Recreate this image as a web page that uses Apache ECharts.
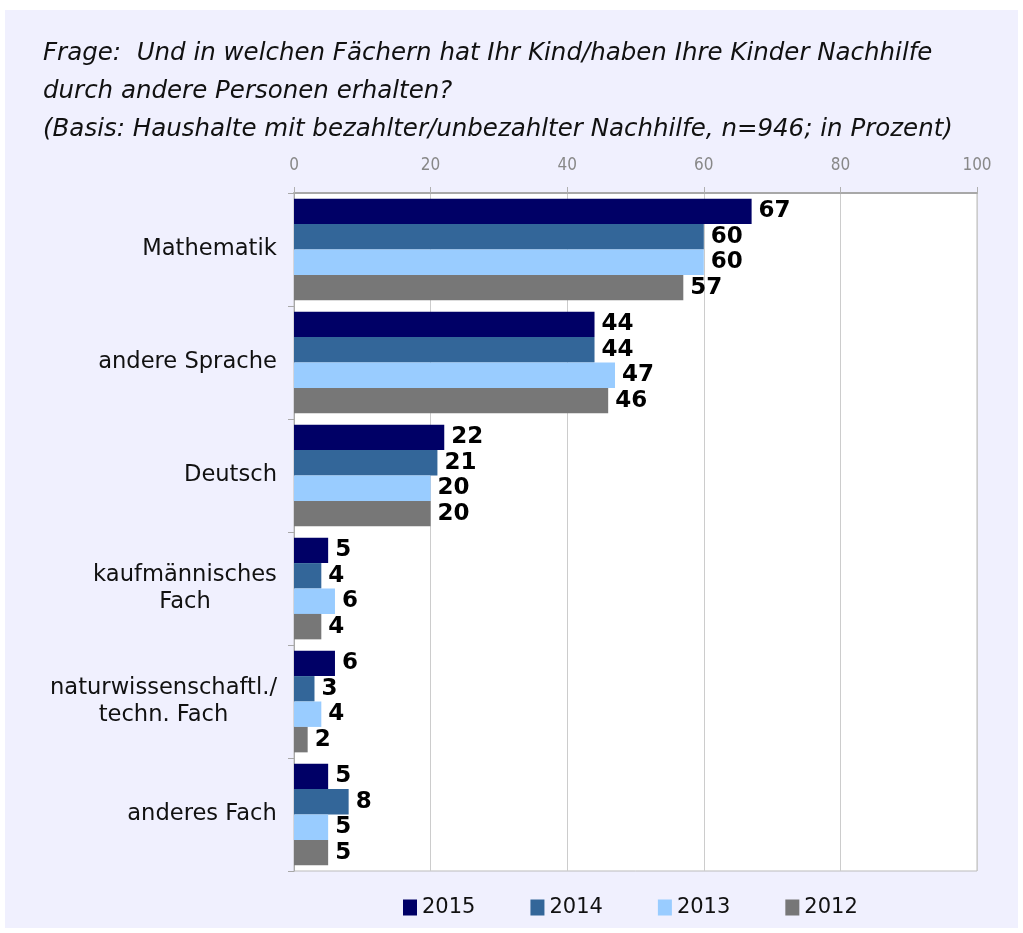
<!DOCTYPE html>
<html>
<head>
<meta charset="utf-8">
<script src="https://cdn.jsdelivr.net/npm/echarts@6/dist/echarts.min.js"></script>
<style>
  html, body { margin: 0; padding: 0; background: #ffffff; }
  #panel { position: absolute; left: 5px; top: 10px; width: 1013px; height: 918px; background: #f0f0fe; }
  #chart { position: absolute; left: 0; top: 0; width: 1023px; height: 933px; }
</style>
</head>
<body>
<div id="panel"></div>
<div id="chart"></div>
<script>
const categories = ['Mathematik', 'andere Sprache', 'Deutsch', 'kaufmännisches\nFach', 'naturwissenschaftl./\ntechn. Fach', 'anderes Fach']
const years = ['2015', '2014', '2013', '2012']
const values2015 = [67, 44, 22, 5, 6, 5]
const values2014 = [60, 44, 21, 4, 3, 8]
const values2013 = [60, 47, 20, 6, 4, 5]
const values2012 = [57, 46, 20, 4, 2, 5]
const xTicks = [0, 20, 40, 60, 80, 100]

const colors = ['#000066', '#336699', '#99ccff', '#777777']
const allValues = [values2015, values2014, values2013, values2012]

const titleText = 'Frage:  Und in welchen Fächern hat Ihr Kind/haben Ihre Kinder Nachhilfe\n' +
    'durch andere Personen erhalten?\n' +
    '(Basis: Haushalte mit bezahlter/unbezahlter Nachhilfe, n=946; in Prozent)'

const CAT_FONT = 22.6
const CAT_LINE = 27

// multi-line category labels: lines centred on each other, block right-aligned
const ctx = document.createElement('canvas').getContext('2d')
ctx.font = CAT_FONT + 'px "DejaVu Sans"'
const rich = {}
categories.forEach((c, i) => {
    const w = Math.max(...c.split('\n').map(l => ctx.measureText(l).width))
    rich['c' + i] = {
        width: Math.ceil(w),
        align: 'center',
        fontFamily: 'DejaVu Sans',
        fontSize: CAT_FONT,
        lineHeight: CAT_LINE,
        color: '#111111'
    }
})

const myChart = echarts.init(document.getElementById('chart'))

myChart.setOption({
    animation: false,
    backgroundColor: 'transparent',
    color: colors,
    title: {
        text: titleText,
        left: 38,
        top: 30,
        textStyle: {
            fontFamily: 'DejaVu Sans',
            fontStyle: 'italic',
            fontWeight: 'normal',
            fontSize: 24.5,
            lineHeight: 38,
            color: '#111111'
        }
    },
    legend: {
        top: 892,
        left: 398,
        itemWidth: 14,
        itemHeight: 16,
        itemGap: 55,
        icon: 'rect',
        textStyle: {
            fontFamily: 'DejaVu Sans',
            fontSize: 21,
            color: '#111111'
        },
        data: years
    },
    grid: {
        left: 294,
        top: 193,
        width: 683,
        height: 678,
        show: true,
        backgroundColor: '#ffffff',
        borderColor: '#bbbbbb',
        borderWidth: 1
    },
    xAxis: {
        type: 'value',
        position: 'top',
        min: xTicks[0],
        max: xTicks[xTicks.length - 1],
        interval: 20,
        axisLine: { show: true, lineStyle: { color: '#a8a8a8', width: 2 } },
        axisTick: { show: true, length: 6, lineStyle: { color: '#b0b0b0' } },
        splitLine: { show: true, lineStyle: { color: '#cccccc' } },
        axisLabel: {
            margin: 19,
            fontFamily: '"Liberation Sans Narrow", "DejaVu Sans Condensed", sans-serif',
            fontSize: 17,
            color: '#888888'
        }
    },
    yAxis: {
        type: 'category',
        inverse: true,
        data: categories,
        axisLine: { show: true, lineStyle: { color: '#a8a8a8', width: 1 } },
        axisTick: { show: true, length: 6, lineStyle: { color: '#a8a8a8' } },
        axisLabel: {
            margin: 17,
            align: 'right',
            rich: rich,
            formatter: (v, i) => v.split('\n').map(l => '{c' + i + '|' + l + '}').join('\n')
        }
    },
    series: years.map((y, i) => ({
        name: y,
        type: 'bar',
        data: allValues[i],
        barGap: '0%',
        barCategoryGap: '10%',
        label: {
            show: true,
            position: 'right',
            distance: 7,
            fontFamily: 'DejaVu Sans',
            fontWeight: 'bold',
            fontSize: 23,
            color: '#000000'
        }
    }))
})
</script>
</body>
</html>
